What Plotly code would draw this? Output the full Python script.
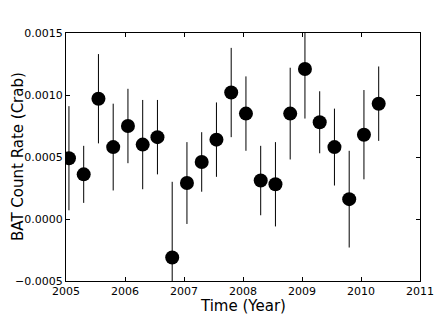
import plotly.graph_objects as go

# quarterly BAT light curve (Crab units)
time_year = [2005.05, 2005.30, 2005.55, 2005.80, 2006.05, 2006.30, 2006.55, 2006.80,
             2007.05, 2007.30, 2007.55, 2007.80, 2008.05, 2008.30, 2008.55, 2008.80,
             2009.05, 2009.30, 2009.55, 2009.80, 2010.05, 2010.30]
rate = [0.00049, 0.00036, 0.00097, 0.00058, 0.00075, 0.00060, 0.00066, -0.00031,
        0.00029, 0.00046, 0.00064, 0.00102, 0.00085, 0.00031, 0.00028, 0.00085,
        0.00121, 0.00078, 0.00058, 0.00016, 0.00068, 0.00093]
rate_err = [0.00042, 0.00023, 0.00036, 0.00035, 0.00030, 0.00036, 0.00030, 0.00061,
            0.00033, 0.00024, 0.00030, 0.00036, 0.00030, 0.00028, 0.00034, 0.00037,
            0.00040, 0.00025, 0.00031, 0.00039, 0.00036, 0.00030]

x_ticks = [2005, 2006, 2007, 2008, 2009, 2010, 2011]
y_ticks = [-0.0005, 0.0, 0.0005, 0.0010, 0.0015]
y_tick_text = ["\u22120.0005", "0.0000", "0.0005", "0.0010", "0.0015"]

FONT = "DejaVu Sans"
LEFT_MARGIN = 58

fig = go.Figure()
fig.add_scatter(
    x=time_year,
    y=rate,
    mode="markers",
    marker=dict(color="black", size=14, symbol="circle"),
    error_y=dict(type="data", array=rate_err, visible=True,
                 color="black", thickness=1, width=0),
    showlegend=False,
)

axis_style = dict(
    showline=True,
    mirror="allticks",
    linecolor="black",
    linewidth=1,
    ticks="inside",
    ticklen=4,
    tickcolor="black",
    showgrid=False,
    zeroline=False,
    automargin=False,
    tickfont=dict(family=FONT, size=11, color="black"),
)

fig.update_xaxes(
    range=[2005, 2011],
    tickvals=x_ticks,
    ticktext=[str(t) for t in x_ticks],
    **axis_style,
)
fig.update_yaxes(
    range=[-0.0005, 0.0015],
    tickvals=y_ticks,
    ticktext=y_tick_text,
    **axis_style,
)

# axis titles as annotations so they sit where the original put them
title_font = dict(family=FONT, size=15, color="black")
fig.add_annotation(
    text="Time (Year)",
    xref="paper", yref="paper",
    x=0.5, y=0,
    xanchor="center", yanchor="middle",
    yshift=-25,
    borderpad=0,
    showarrow=False,
    font=title_font,
)
fig.add_annotation(
    text="BAT Count Rate (Crab)",
    xref="paper", yref="paper",
    x=0, y=0.5,
    xanchor="left", yanchor="middle",
    xshift=-LEFT_MARGIN,
    textangle=-90,
    borderpad=0,
    showarrow=False,
    font=title_font,
)

# page body adds an 8px offset, so the figure is 8px smaller than the window
fig.update_layout(
    width=434,
    height=323,
    margin=dict(l=LEFT_MARGIN, r=22, t=25, b=50),
    paper_bgcolor="white",
    plot_bgcolor="white",
)

fig.write_html("out.html")
